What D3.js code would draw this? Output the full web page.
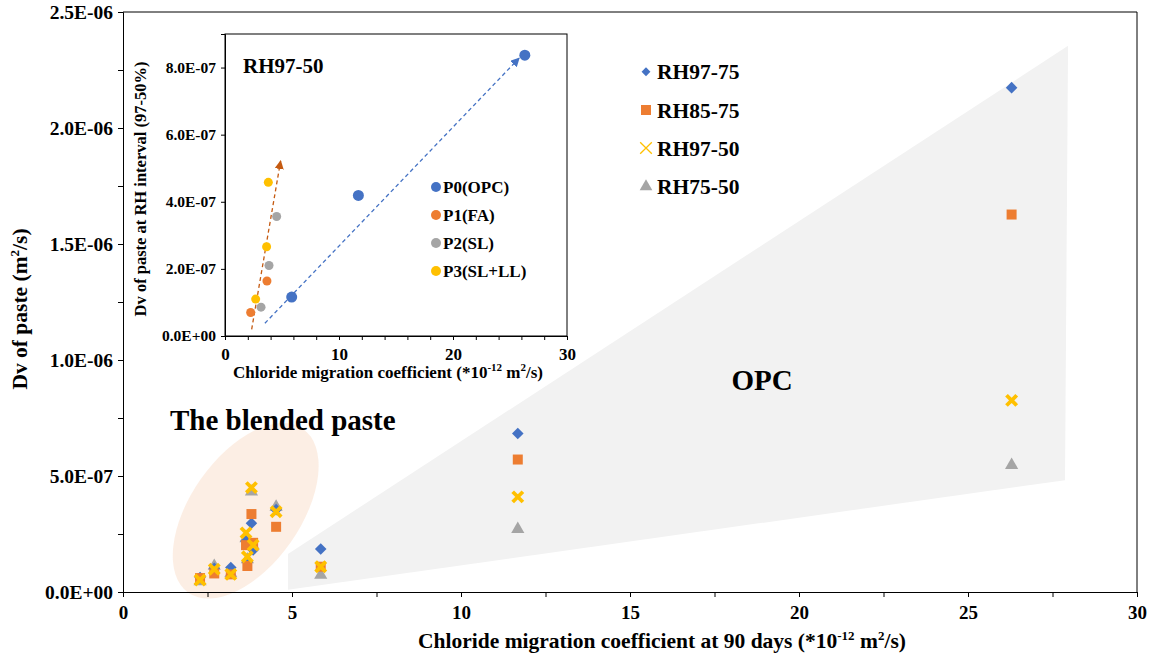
<!DOCTYPE html>
<html>
<head>
<meta charset="utf-8">
<script src="https://cdnjs.cloudflare.com/ajax/libs/d3/7.8.5/d3.min.js"></script>
<style>
  html, body { margin: 0; padding: 0; background: #fff; }
  svg text { font-family: "Liberation Serif", "Times New Roman", serif; font-weight: bold; fill: #000; }
</style>
</head>
<body>
<div id="app"></div>
<script>
// ---- main chart data (x: chloride migration coefficient, y: Dv in m2/s)
const mixX    = [2.28, 2.70, 3.19, 3.68, 3.64, 3.85, 3.80, 4.53, 5.85, 11.68, 26.29]
const rh97_75 = [0.62e-7, 1.02e-7, 1.06e-7, 1.30e-7, 2.20e-7, 1.81e-7, 2.96e-7, 3.55e-7, 1.85e-7, 6.83e-7, 21.74e-7]
const rh85_75 = [0.60e-7, 0.80e-7, 0.76e-7, 1.12e-7, 2.02e-7, 2.12e-7, 3.36e-7, 2.81e-7, 1.09e-7, 5.71e-7, 16.27e-7]
const rh97_50 = [0.52e-7, 0.98e-7, 0.76e-7, 1.52e-7, 2.55e-7, 2.02e-7, 4.50e-7, 3.46e-7, 1.09e-7, 4.10e-7, 8.26e-7]
const rh75_50 = [0.45e-7, 1.12e-7, 0.80e-7, 1.40e-7, 2.31e-7, 2.00e-7, 4.32e-7, 3.67e-7, 0.73e-7, 2.71e-7, 5.47e-7]
const seriesNames = ['RH97-75', 'RH85-75', 'RH97-50', 'RH75-50']
const xTicks = [0, 5, 10, 15, 20, 25, 30]
const yTicks = [0, 0.5e-6, 1.0e-6, 1.5e-6, 2.0e-6, 2.5e-6]

// ---- inset data (RH97-50)
const insetGroups = ['P0(OPC)', 'P1(FA)', 'P2(SL)', 'P3(SL+LL)']
const p0X = [5.85, 11.7, 26.3],  p0Y = [1.16e-7, 4.19e-7, 8.37e-7]
const p1X = [2.25, 3.68],        p1Y = [0.70e-7, 1.64e-7]
const p2X = [3.16, 3.86, 4.53],  p2Y = [0.86e-7, 2.10e-7, 3.56e-7]
const p3X = [2.69, 3.65, 3.80],  p3Y = [1.10e-7, 2.66e-7, 4.58e-7]
const insetXTicks = [0, 10, 20, 30]
const insetYTicks = [0, 2e-7, 4e-7, 6e-7, 8e-7]
// trend arrows [x0, y0, x1, y1]
const opcArrow = [3.5, 0.38e-7, 25.8, 8.28e-7]
const blendArrow = [2.34, 0.2e-7, 4.88, 5.22e-7]

// ---- annotation shapes in data units
const opcRegion = [[4.88, 0.01e-6], [4.88, 0.164e-6], [27.96, 2.354e-6], [27.87, 0.482e-6]]
const blendCenter = [3.63, 0.35e-6]
const insetBlendCenter = [3.2, 2.75e-7]

const colors = ['#4472C4', '#ED7D31', '#A5A5A5', '#FFC000']

const fmtE = function(d) {
  var parts = d.toExponential(1).split('e')
  var e = parseInt(parts[1], 10)
  return parts[0] + 'E' + (e < 0 ? '-' : '+') + String(Math.abs(e)).padStart(2, '0')
}

const w = 1152, h = 657
const svg = d3.select('#app').append('svg').attr('width', w).attr('height', h)

// scales
const x = d3.scaleLinear().domain([0, 30]).range([123, 1137])
const y = d3.scaleLinear().domain([0, 2.5e-6]).range([592, 12])

// frame (top + right)
svg.append('path')
   .attr('d', 'M' + x(0) + ',' + y(2.5e-6) + 'H' + x(30) + 'V' + y(0))
   .attr('fill', 'none').attr('stroke', '#000').attr('stroke-width', 1)

// OPC region
svg.append('polygon')
   .attr('points', opcRegion.map(p => x(p[0]) + ',' + y(p[1])).join(' '))
   .attr('fill', '#f2f2f2')

// blended paste ellipse
svg.append('ellipse')
   .attr('cx', 0).attr('cy', 0).attr('rx', 55).attr('ry', 100)
   .attr('transform', 'translate(' + x(blendCenter[0]) + ',' + y(blendCenter[1]) + ') rotate(35)')
   .attr('fill', '#fbe5d6').attr('opacity', 0.65)

svg.append('text').attr('x', 170).attr('y', 430).style('font-size', '29px').text('The blended paste')
svg.append('text').attr('x', 762).attr('y', 390).attr('text-anchor', 'middle').style('font-size', '29px').text('OPC')

// axes
const xAxis = d3.axisBottom(x).tickValues(d3.range(0, 30.1, 2.5)).tickSize(5)
                .tickFormat(d => xTicks.indexOf(d) >= 0 ? d : '')
const gx = svg.append('g').attr('transform', 'translate(0,' + y(0) + ')').call(xAxis)
gx.selectAll('text').style('font-size', '19px').attr('dy', '1.0em')

const yAxis = d3.axisLeft(y).tickValues(d3.range(0, 2.51e-6, 0.25e-6)).tickSize(5)
                .tickFormat(d => yTicks.some(t => Math.abs(t - d) < 1e-12) ? fmtE(d) : '')
const gy = svg.append('g').attr('transform', 'translate(' + x(0) + ',0)').call(yAxis)
gy.selectAll('text').style('font-size', '19.5px').attr('x', -10)
svg.selectAll('.domain, .tick line').attr('stroke', '#000')

// axis titles
const xt = svg.append('text').attr('x', 662).attr('y', 648).attr('text-anchor', 'middle').style('font-size', '21.5px')
xt.append('tspan').text('Chloride migration coefficient at 90 days (*10')
xt.append('tspan').attr('dy', -8).style('font-size', '13px').text('-12')
xt.append('tspan').attr('dy', 8).text(' m')
xt.append('tspan').attr('dy', -8).style('font-size', '13px').text('2')
xt.append('tspan').attr('dy', 8).text('/s)')

const yt = svg.append('text').attr('transform', 'translate(27,309) rotate(-90)').attr('text-anchor', 'middle').style('font-size', '21.5px')
yt.append('tspan').text('Dv of paste (m')
yt.append('tspan').attr('dy', -8).style('font-size', '13px').text('2')
yt.append('tspan').attr('dy', 8).text('/s)')

// markers
const diamond = d3.symbol().type(d3.symbolDiamond2)
const square = d3.symbol().type(d3.symbolSquare)
const cross = d3.symbol().type(d3.symbolX)
const tri = d3.symbol().type(d3.symbolTriangle)

const drawSeries = function(vals, idx) {
  const pts = mixX.map((v, i) => [v, vals[i]])
  const g = svg.append('g')
  const sel = g.selectAll('path').data(pts).enter().append('path')
               .attr('transform', d => 'translate(' + x(d[0]) + ',' + y(d[1]) + ')')
  if (idx === 0) sel.attr('d', diamond.size(85)()).attr('fill', colors[0])
  if (idx === 1) sel.attr('d', square.size(100)()).attr('fill', colors[1])
  if (idx === 2) sel.attr('d', cross.size(70)()).attr('fill', 'none').attr('stroke', colors[3]).attr('stroke-width', 3.8)
  if (idx === 3) sel.attr('d', tri.size(75)()).attr('fill', colors[2])
}
// drawing order so the yellow crosses sit on top
drawSeries(rh75_50, 3)
drawSeries(rh97_75, 0)
drawSeries(rh85_75, 1)
drawSeries(rh97_50, 2)

// legend
const legY = [71.7, 110, 148, 186.7]
const leg = svg.append('g')
seriesNames.forEach(function(name, i) {
  const m = leg.append('path').attr('transform', 'translate(646,' + legY[i] + ')')
  if (i === 0) m.attr('d', diamond.size(50)()).attr('fill', colors[0])
  if (i === 1) m.attr('d', square.size(100)()).attr('fill', colors[1])
  if (i === 2) m.attr('d', cross.size(90)()).attr('fill', 'none').attr('stroke', colors[3]).attr('stroke-width', 1.3)
  if (i === 3) m.attr('d', tri.size(70)()).attr('fill', colors[2])
  leg.append('text').attr('x', 657).attr('y', legY[i]).attr('dy', '0.35em').style('font-size', '21.5px').text(name)
})

// ---- inset
const xi = d3.scaleLinear().domain([0, 30]).range([225, 567])
const yi = d3.scaleLinear().domain([0, 9e-7]).range([336, 34])
const inset = svg.append('g')

inset.append('rect').attr('x', xi(0)).attr('y', yi(9e-7))
     .attr('width', xi(30) - xi(0)).attr('height', yi(0) - yi(9e-7))
     .attr('fill', '#fff').attr('stroke', '#000').attr('stroke-width', 1)

inset.append('clipPath').attr('id', 'insetClip').append('rect')
     .attr('x', xi(0)).attr('y', yi(9e-7)).attr('width', xi(30) - xi(0)).attr('height', yi(0) - yi(9e-7))

inset.append('ellipse')
     .attr('clip-path', 'url(#insetClip)')
     .attr('cx', 0).attr('cy', 0).attr('rx', 37).attr('ry', 104)
     .attr('transform', 'translate(' + xi(insetBlendCenter[0]) + ',' + yi(insetBlendCenter[1]) + ') rotate(14)')
     .attr('fill', '#fdf5ea')

const ixAxis = d3.axisBottom(xi).tickValues(d3.range(0, 30.1, 2)).tickSize(4)
                 .tickFormat(d => insetXTicks.indexOf(d) >= 0 ? d : '')
const gix = inset.append('g').attr('transform', 'translate(0,' + yi(0) + ')').call(ixAxis)
gix.selectAll('text').style('font-size', '17px').attr('dy', '1.0em')

const iyAxis = d3.axisLeft(yi).tickValues(insetYTicks).tickSize(4).tickFormat(fmtE)
const giy = inset.append('g').attr('transform', 'translate(' + xi(0) + ',0)').call(iyAxis)
giy.selectAll('text').style('font-size', '15.5px').attr('x', -9)
inset.selectAll('.domain, .tick line').attr('stroke', '#000')

// arrows
const defs = svg.append('defs')
const addHead = function(id, col) {
  defs.append('marker').attr('id', id).attr('viewBox', '0 0 10 10').attr('refX', 9).attr('refY', 5)
      .attr('markerWidth', 7).attr('markerHeight', 7).attr('orient', 'auto')
      .append('path').attr('d', 'M0,0L10,5L0,10z').attr('fill', col)
}
addHead('headBlue', '#4472C4')
addHead('headOrange', '#C55A11')
const drawArrow = function(a, col, id) {
  inset.append('line')
       .attr('x1', xi(a[0])).attr('y1', yi(a[1])).attr('x2', xi(a[2])).attr('y2', yi(a[3]))
       .attr('stroke', col).attr('stroke-width', 1.3).attr('stroke-dasharray', '4,3')
       .attr('marker-end', 'url(#' + id + ')')
}
drawArrow(opcArrow, '#4472C4', 'headBlue')
drawArrow(blendArrow, '#C55A11', 'headOrange')

const groups = [[p0X, p0Y], [p1X, p1Y], [p2X, p2Y], [p3X, p3Y]]
groups.forEach(function(gr, gi) {
  inset.append('g').selectAll('circle')
       .data(gr[0].map((v, i) => [v, gr[1][i]])).enter().append('circle')
       .attr('cx', d => xi(d[0])).attr('cy', d => yi(d[1]))
       .attr('r', gi === 0 ? 5.5 : 4.5)
       .attr('fill', colors[gi])
})

// inset legend
const iLegY = [187, 215, 243, 271]
insetGroups.forEach(function(name, i) {
  inset.append('circle').attr('cx', 436).attr('cy', iLegY[i]).attr('r', 5).attr('fill', colors[i])
  inset.append('text').attr('x', 443).attr('y', iLegY[i]).attr('dy', '0.35em').style('font-size', '17px').text(name)
})

inset.append('text').attr('x', 243).attr('y', 73).style('font-size', '21px').text('RH97-50')

const ixt = inset.append('text').attr('x', 388).attr('y', 378).attr('text-anchor', 'middle').style('font-size', '17px')
ixt.append('tspan').text('Chloride migration coefficient (*10')
ixt.append('tspan').attr('dy', -7).style('font-size', '11px').text('-12')
ixt.append('tspan').attr('dy', 7).text(' m')
ixt.append('tspan').attr('dy', -7).style('font-size', '11px').text('2')
ixt.append('tspan').attr('dy', 7).text('/s)')

inset.append('text').attr('transform', 'translate(146,189) rotate(-90)').attr('text-anchor', 'middle')
     .style('font-size', '16.5px').text('Dv of paste at RH interval (97-50%)')
</script>
</body>
</html>
